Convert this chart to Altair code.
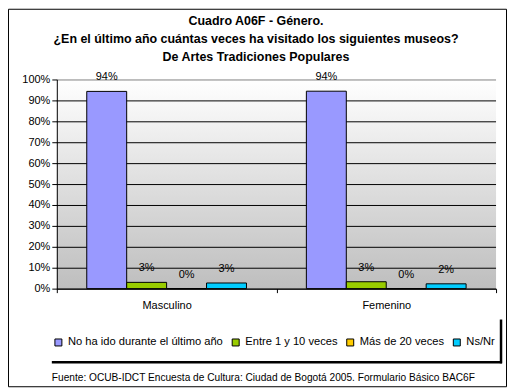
import altair as alt
import pandas as pd

categories = ["Masculino", "Femenino"]
series = ["No ha ido durante el último año", "Entre 1 y 10 veces", "Más de 20 veces", "Ns/Nr"]
masculino = [0.943, 0.030, 0.000, 0.027]
femenino = [0.944, 0.033, 0.000, 0.023]
colors = ["#9999FF", "#99CC00", "#FFCC00", "#00CCFF"]
y_ticks = [0.0, 0.1, 0.2, 0.3, 0.4, 0.5, 0.6, 0.7, 0.8, 0.9, 1.0]
title_lines = [
    "Cuadro A06F - Género.",
    "¿En el último año cuántas veces ha visitado los siguientes museos?",
    "De Artes Tradiciones Populares",
]
footer = "Fuente: OCUB-IDCT Encuesta de Cultura: Ciudad de Bogotá 2005. Formulario Básico BAC6F"

FONT = "Liberation Sans"

rows = []
for cat, vals in zip(categories, [masculino, femenino]):
    for s, v in zip(series, vals):
        rows.append({"genero": cat, "serie": s, "valor": v})
df = pd.DataFrame(rows)

W, H = 441, 210

x_enc = alt.X(
    "genero:N", sort=categories,
    scale=alt.Scale(paddingInner=0, paddingOuter=0),
    axis=alt.Axis(title=None, labelAngle=0, tickBand="extent", tickSize=4, labelPadding=7,
                  domainColor="black", tickColor="black", labelColor="black",
                  labelFont=FONT, labelFontSize=11, grid=False, zindex=1),
)
xo_enc = alt.XOffset("serie:N", sort=series, scale=alt.Scale(paddingInner=0, paddingOuter=0.75))
y_enc = alt.Y(
    "valor:Q", scale=alt.Scale(domain=[0, 1]),
    axis=alt.Axis(title=None, values=y_ticks, format=".0%", tickSize=5, labelPadding=2,
                  domainColor="black", tickColor="black", labelColor="black",
                  labelFont=FONT, labelFontSize=11, grid=False, zindex=1),
)

gradient = alt.LinearGradient(
    gradient="linear",
    stops=[alt.GradientStop(color="#FFFFFF", offset=0), alt.GradientStop(color="#BEBEBE", offset=1)],
    x1=0, x2=0, y1=0, y2=1,
)
one = pd.DataFrame({"a": [0]})

bg = alt.Chart(one).mark_rect(fill=gradient).encode(
    x=alt.value(0), x2=alt.value(W), y=alt.value(0), y2=alt.value(H)
)

grid = alt.Chart(pd.DataFrame({"valor": y_ticks})).mark_rule(strokeWidth=1, yOffset=0.5).encode(
    y=y_enc,
    color=alt.condition("datum.valor >= 1", alt.value("#808080"), alt.value("black")),
)

bars = alt.Chart(df).mark_bar(stroke="black", strokeWidth=1).encode(
    x=x_enc, xOffset=xo_enc, y=y_enc,
    color=alt.Color(
        "serie:N", sort=series, scale=alt.Scale(domain=series, range=colors),
        legend=alt.Legend(title=None, orient="none", legendX=-4, legendY=258, direction="horizontal",
                          columns=4, symbolType="square", symbolSize=49, symbolStrokeColor="black",
                          symbolStrokeWidth=1, labelFont=FONT, labelFontSize=11.2, labelColor="black",
                          columnPadding=7, labelOffset=4, labelLimit=300, padding=0),
    ),
)

labels = alt.Chart(df).mark_text(dy=-11, baseline="alphabetic", font=FONT, fontSize=11, color="black").encode(
    x=x_enc, xOffset=xo_enc, y=y_enc, text=alt.Text("valor:Q", format=".0%")
)

title = alt.Chart(one).mark_text(
    text=title_lines, font=FONT, fontSize=12.5, fontWeight="bold", color="black",
    align="center", baseline="top", lineHeight=18,
).encode(x=alt.value(200), y=alt.value(-65))

shadow_b = alt.Chart(one).mark_rule(color="black", strokeWidth=2.5).encode(
    x=alt.value(-5), x2=alt.value(447), y=alt.value(284)
)
shadow_r = alt.Chart(one).mark_rule(color="black", strokeWidth=2.5).encode(
    x=alt.value(446), y=alt.value(241), y2=alt.value(285)
)

foot = alt.Chart(pd.DataFrame({"t": [footer]})).mark_text(
    align="left", baseline="middle", font=FONT, fontSize=10.2, color="black"
).encode(x=alt.value(-5), y=alt.value(300), text="t:N")

frame = alt.Chart(one).mark_rect(fillOpacity=0, stroke="black", strokeWidth=1).encode(
    x=alt.value(-48.5), x2=alt.value(451.5), y=alt.value(-70.5), y2=alt.value(308.5)
)

chart = alt.layer(bg, grid, bars, labels, title, shadow_b, shadow_r, foot, frame).properties(
    width=W, height=H,
    autosize="none",
    padding={"left": 49, "top": 71, "right": 11, "bottom": 100},
).configure_view(stroke=None)

chart.save("out.html", embed_options={"renderer": "svg", "actions": False})
